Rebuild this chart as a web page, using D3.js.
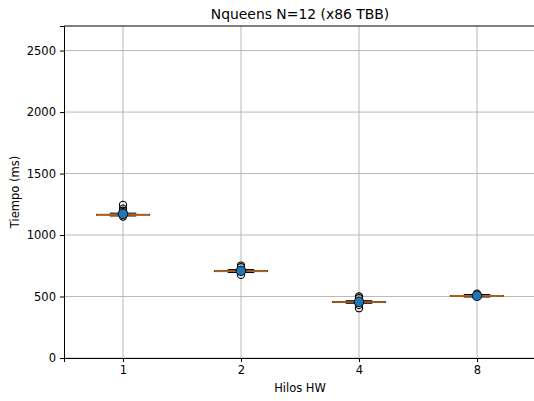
<!DOCTYPE html>
<html>
<head>
  <meta charset="utf-8"><script src="https://d3js.org/d3.v7.min.js"></script>
</head>
<body style="margin:0; overflow:hidden" onload="execute()">
  <svg id="mychart" width="534" height="401" style="display:block; background: white; font-family: 'DejaVu Sans', sans-serif" />
</body>
<script>
  // data
  hilos   = ["1", "2", "4", "8"]
  q1      = [1162, 703, 453, 503]
  medians = [1164, 705, 455, 505]
  q3      = [1168, 709, 458, 508]
  whisLo  = [1155, 695, 445, 496]
  whisHi  = [1178, 719, 466, 516]
  means   = [1172, 709, 456, 506]
  fliers  = [[1245, 1215, 1198, 1150], [752, 738, 676], [500, 486, 432, 405], [524]]
  yTicks  = [0, 500, 1000, 1500, 2000, 2500]

  function execute() {
    width = 534
    height = 401
    margin = ({top: 26, right: -2, bottom: 43, left: 64})

    x = d3.scaleLinear()
      .domain([0.5, 4.5])
      .range([margin.left, width - margin.right])

    y = d3.scaleLinear()
      .domain([0, 2700])
      .range([height - margin.bottom, margin.top])

    svg = d3.select("#mychart")

    // grid
    svg.append("g")
      .selectAll("line").data(yTicks).join("line")
      .attr("x1", margin.left).attr("x2", width - margin.right)
      .attr("y1", d => y(d)).attr("y2", d => y(d))
      .attr("stroke", "#b0b0b0").attr("stroke-width", 0.9)
    svg.append("g")
      .selectAll("line").data(hilos).join("line")
      .attr("x1", (d, i) => x(i + 1)).attr("x2", (d, i) => x(i + 1))
      .attr("y1", margin.top).attr("y2", height - margin.bottom)
      .attr("stroke", "#b0b0b0").attr("stroke-width", 0.9)

    bw = x(1.45) - x(1)
    boxes = svg.append("g").selectAll("g").data(hilos).join("g")

    // whiskers + caps
    boxes.append("line")
      .attr("x1", (d, i) => x(i + 1)).attr("x2", (d, i) => x(i + 1))
      .attr("y1", (d, i) => y(whisLo[i])).attr("y2", (d, i) => y(q1[i]))
      .attr("stroke", "black").attr("stroke-width", 1)
    boxes.append("line")
      .attr("x1", (d, i) => x(i + 1)).attr("x2", (d, i) => x(i + 1))
      .attr("y1", (d, i) => y(whisHi[i])).attr("y2", (d, i) => y(q3[i]))
      .attr("stroke", "black").attr("stroke-width", 1)
    boxes.append("line")
      .attr("x1", (d, i) => x(i + 1) - bw / 4).attr("x2", (d, i) => x(i + 1) + bw / 4)
      .attr("y1", (d, i) => y(whisLo[i])).attr("y2", (d, i) => y(whisLo[i]))
      .attr("stroke", "black").attr("stroke-width", 1)
    boxes.append("line")
      .attr("x1", (d, i) => x(i + 1) - bw / 4).attr("x2", (d, i) => x(i + 1) + bw / 4)
      .attr("y1", (d, i) => y(whisHi[i])).attr("y2", (d, i) => y(whisHi[i]))
      .attr("stroke", "black").attr("stroke-width", 1)

    // box
    boxes.append("rect")
      .attr("x", (d, i) => x(i + 1) - bw / 2)
      .attr("width", bw)
      .attr("y", (d, i) => y(q3[i]))
      .attr("height", (d, i) => y(q1[i]) - y(q3[i]))
      .attr("fill", "none").attr("stroke", "black").attr("stroke-width", 1)

    // median
    boxes.append("line")
      .attr("x1", (d, i) => x(i + 1) - bw / 2).attr("x2", (d, i) => x(i + 1) + bw / 2)
      .attr("y1", (d, i) => y(medians[i])).attr("y2", (d, i) => y(medians[i]))
      .attr("stroke", "#ff7f0e").attr("stroke-width", 1.1)

    // fliers
    boxes.each(function(d, i) {
      d3.select(this).selectAll("circle.flier").data(fliers[i]).join("circle")
        .attr("class", "flier")
        .attr("cx", x(i + 1)).attr("cy", v => y(v))
        .attr("r", 3.6)
        .attr("fill", "none").attr("stroke", "black").attr("stroke-width", 1.1)
    })

    // means
    boxes.append("circle")
      .attr("cx", (d, i) => x(i + 1)).attr("cy", (d, i) => y(means[i]))
      .attr("r", 4.8)
      .attr("fill", "#1f77b4").attr("stroke", "black").attr("stroke-width", 0.9)

    // axes
    xAxis = g => g
      .attr("transform", `translate(0,${height - margin.bottom})`)
      .call(d3.axisBottom(x).tickValues([1, 2, 3, 4]).tickFormat((d, i) => hilos[i]).tickSizeOuter(0).tickSize(4).tickPadding(4))
      .call(g => g.select(".domain").attr("stroke-width", 1))
    yAxis = g => g
      .attr("transform", `translate(${margin.left},0)`)
      .call(d3.axisLeft(y).tickValues(yTicks).tickFormat(d3.format("d")).tickSizeOuter(0).tickSize(4).tickPadding(4))
      .call(g => g.select(".domain").attr("stroke-width", 1))

    svg.append("g").call(xAxis).attr("font-size", 11.5).attr("font-family", "DejaVu Sans")
    svg.append("g").call(yAxis).attr("font-size", 11.5).attr("font-family", "DejaVu Sans")

    // top spine
    svg.append("line")
      .attr("x1", margin.left).attr("x2", width - margin.right)
      .attr("y1", margin.top).attr("y2", margin.top)
      .attr("stroke", "black").attr("stroke-width", 1)

    svg.append("text")
      .attr("x", (x(0.5) + x(4.5)) / 2).attr("y", 19)
      .attr("text-anchor", "middle").attr("font-size", 13.9)
      .text("Nqueens N=12 (x86 TBB)")
    svg.append("text")
      .attr("x", (x(0.5) + x(4.5)) / 2).attr("y", 392)
      .attr("text-anchor", "middle").attr("font-size", 11.5)
      .text("Hilos HW")
    svg.append("text")
      .attr("transform", `translate(19,${(y(0) + y(2700)) / 2}) rotate(-90)`)
      .attr("text-anchor", "middle").attr("font-size", 11.5)
      .text("Tiempo (ms)")
  }
</script>
</html>
